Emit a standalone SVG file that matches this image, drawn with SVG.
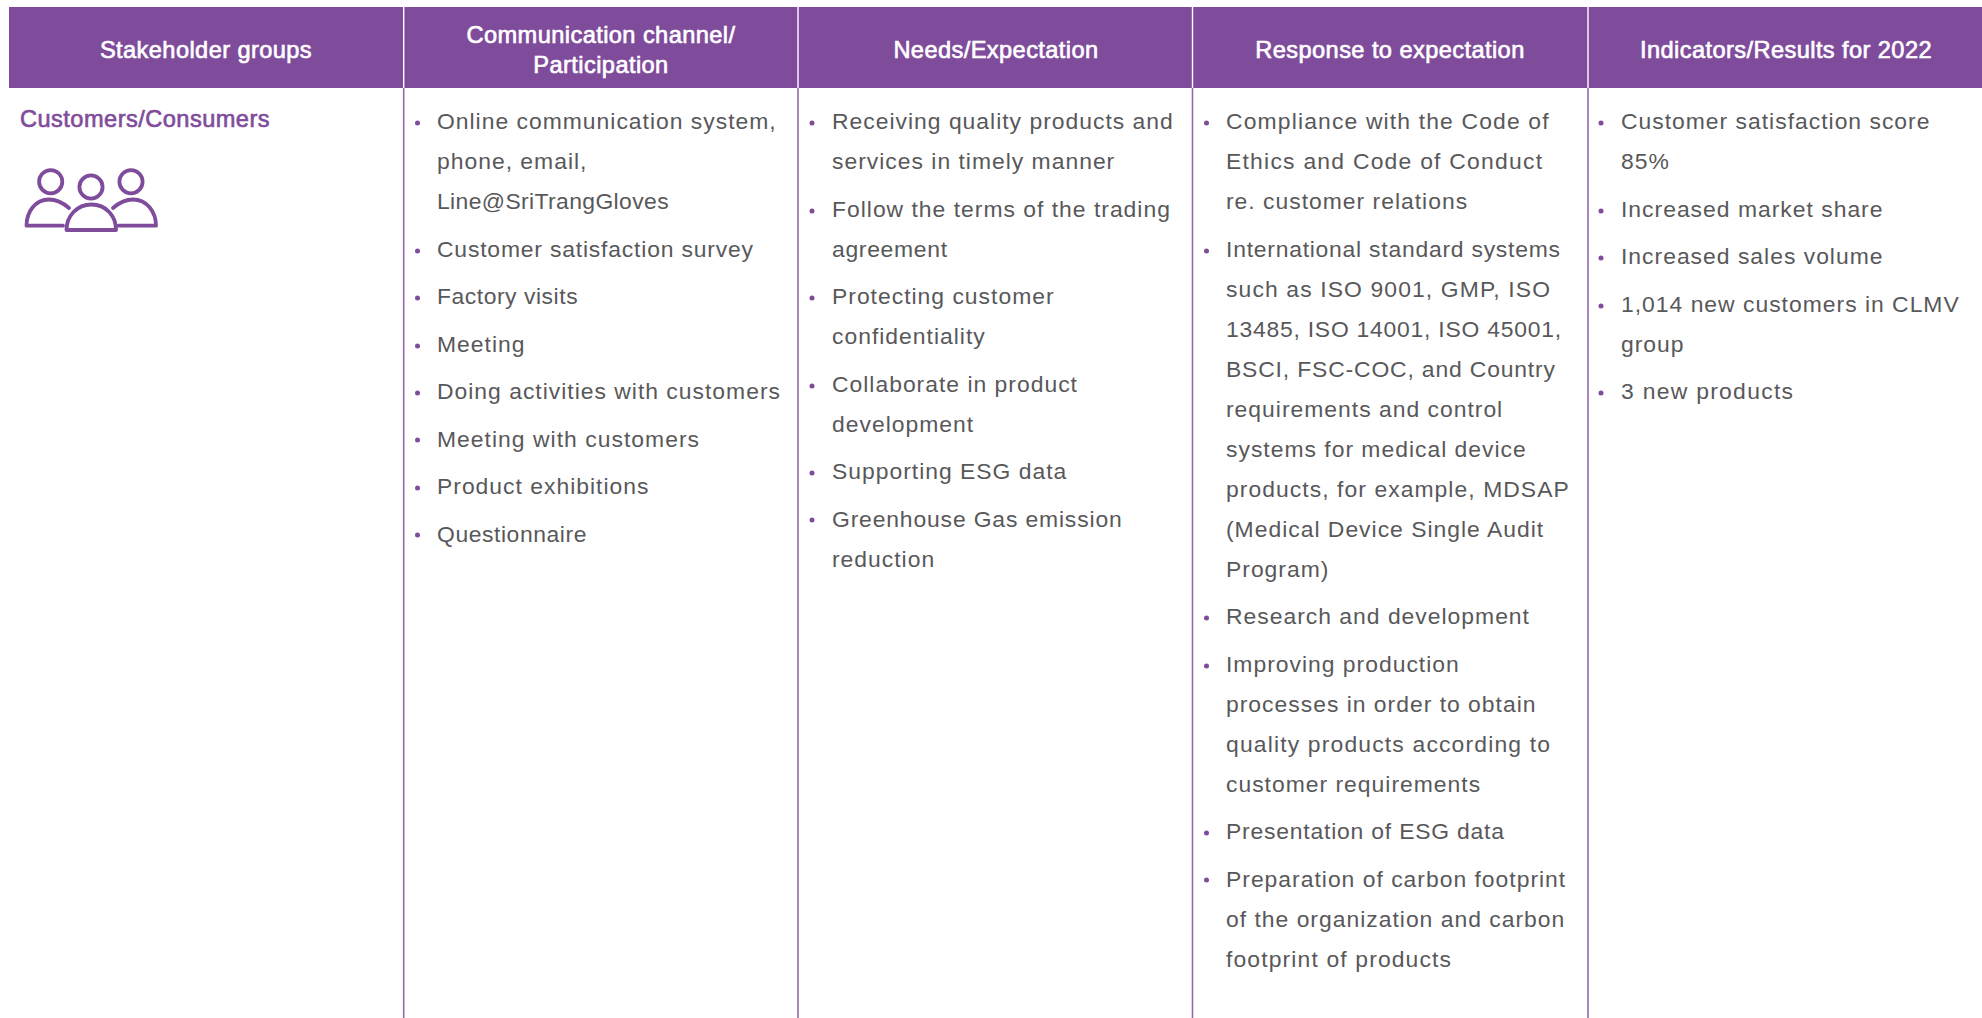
<svg xmlns="http://www.w3.org/2000/svg" width="1982" height="1018" viewBox="0 0 1982 1018">
<style>
.h{fill:#7f4c9b}
.ht{font:23.6px "Liberation Sans",Arial,sans-serif;fill:#fff;stroke:#fff;stroke-width:.65;letter-spacing:.42px;text-anchor:middle}
.t{font:22.9px "Liberation Sans",Arial,sans-serif;fill:#58585a;letter-spacing:1px}
.b{fill:#7f4c9b}
.l{stroke:#9468ad;stroke-width:1.6;fill:none}
.w{stroke:#fff;stroke-width:1.4;fill:none}
.i{stroke:#7f4c9b;stroke-width:3.8;fill:none;stroke-linecap:round;stroke-linejoin:round}
</style>
<rect width="1982" height="1018" fill="#fff"/>
<g id="header">
<rect class="h" x="9" y="7" width="1973" height="81"/>
<path class="w" d="M403.700 7V88M798 7V88M1192.500 7V88M1588 7V88"/>
<text class="ht" x="206" y="57.500">Stakeholder groups</text>
<text class="ht" x="601" y="42.500">Communication channel/</text>
<text class="ht" x="601" y="72.500">Participation</text>
<text class="ht" x="996" y="57.500">Needs/Expectation</text>
<text class="ht" x="1390" y="57.500">Response to expectation</text>
<text class="ht" x="1786" y="57.500">Indicators/Results for 2022</text>
</g>
<g id="dividers">
<path class="l" d="M403.700 88V1018M798 88V1018M1192.500 88V1018M1588 88V1018"/>
</g>
<g id="customers">
<text x="20" y="127" style="font:23.6px 'Liberation Sans',Arial,sans-serif;fill:#7f4c9b;stroke:#7f4c9b;stroke-width:.65;letter-spacing:.46px">Customers/Consumers</text>
<g class="i">
<circle cx="50.7" cy="181.7" r="11.6"/><circle cx="91" cy="187" r="11.6"/><circle cx="131" cy="181.7" r="11.6"/>
<path d="M69 208C62 202 55 199.500 49 199.500C35 199.500 26.500 212 26.500 225.700H63"/>
<path d="M113 208C120 202 127 199.500 133 199.500C147 199.500 156 212 156 225.700H118.500"/>
<path d="M66.500 230C66.500 216 77 204.500 91.500 204.500C106 204.500 116 216 116 230Z"/>
</g>
</g>
<g id="channels">
<circle class="b" cx="417.500" cy="123" r="2.500"/><circle class="b" cx="417.500" cy="251" r="2.500"/><circle class="b" cx="417.500" cy="298" r="2.500"/><circle class="b" cx="417.500" cy="346" r="2.500"/><circle class="b" cx="417.500" cy="393" r="2.500"/><circle class="b" cx="417.500" cy="440" r="2.500"/><circle class="b" cx="417.500" cy="488" r="2.500"/><circle class="b" cx="417.500" cy="535" r="2.500"/>
<text class="t" x="437" y="129">Online communication system,</text>
<text class="t" x="437" y="169">phone, email,</text>
<text class="t" x="437" y="209" textLength="232.600">Line@SriTrangGloves</text>
<text class="t" x="437" y="257" textLength="317">Customer satisfaction survey</text>
<text class="t" x="437" y="304" textLength="141.600">Factory visits</text>
<text class="t" x="437" y="352">Meeting</text>
<text class="t" x="437" y="399">Doing activities with customers</text>
<text class="t" x="437" y="446.500" textLength="263">Meeting with customers</text>
<text class="t" x="437" y="494">Product exhibitions</text>
<text class="t" x="437" y="541.500" textLength="150.400">Questionnaire</text>
</g>
<g id="needs">
<circle class="b" cx="812" cy="123" r="2.500"/><circle class="b" cx="812" cy="211" r="2.500"/><circle class="b" cx="812" cy="298" r="2.500"/><circle class="b" cx="812" cy="386" r="2.500"/><circle class="b" cx="812" cy="473" r="2.500"/><circle class="b" cx="812" cy="520" r="2.500"/>
<text class="t" x="832" y="129">Receiving quality products and</text>
<text class="t" x="832" y="169">services in timely manner</text>
<text class="t" x="832" y="217">Follow the terms of the trading</text>
<text class="t" x="832" y="257" textLength="116">agreement</text>
<text class="t" x="832" y="304">Protecting customer</text>
<text class="t" x="832" y="344">confidentiality</text>
<text class="t" x="832" y="392">Collaborate in product</text>
<text class="t" x="832" y="432">development</text>
<text class="t" x="832" y="479">Supporting ESG data</text>
<text class="t" x="832" y="526.500" textLength="290.700">Greenhouse Gas emission</text>
<text class="t" x="832" y="566.500">reduction</text>
</g>
<g id="response">
<circle class="b" cx="1206.500" cy="123" r="2.500"/><circle class="b" cx="1206.500" cy="251" r="2.500"/><circle class="b" cx="1206.500" cy="618" r="2.500"/><circle class="b" cx="1206.500" cy="666" r="2.500"/><circle class="b" cx="1206.500" cy="833" r="2.500"/><circle class="b" cx="1206.500" cy="880" r="2.500"/>
<text class="t" x="1226" y="129" textLength="323.600">Compliance with the Code of</text>
<text class="t" x="1226" y="169" textLength="317">Ethics and Code of Conduct</text>
<text class="t" x="1226" y="209">re. customer relations</text>
<text class="t" x="1226" y="257" textLength="335">International standard systems</text>
<text class="t" x="1226" y="297" textLength="325">such as ISO 9001, GMP, ISO</text>
<text class="t" x="1226" y="337" textLength="336">13485, ISO 14001, ISO 45001,</text>
<text class="t" x="1226" y="377" textLength="330">BSCI, FSC-COC, and Country</text>
<text class="t" x="1226" y="417">requirements and control</text>
<text class="t" x="1226" y="457">systems for medical device</text>
<text class="t" x="1226" y="497" textLength="343.800">products, for example, MDSAP</text>
<text class="t" x="1226" y="537">(Medical Device Single Audit</text>
<text class="t" x="1226" y="577">Program)</text>
<text class="t" x="1226" y="624">Research and development</text>
<text class="t" x="1226" y="672">Improving production</text>
<text class="t" x="1226" y="712">processes in order to obtain</text>
<text class="t" x="1226" y="752" textLength="325">quality products according to</text>
<text class="t" x="1226" y="792">customer requirements</text>
<text class="t" x="1226" y="839" textLength="279">Presentation of ESG data</text>
<text class="t" x="1226" y="887">Preparation of carbon footprint</text>
<text class="t" x="1226" y="927">of the organization and carbon</text>
<text class="t" x="1226" y="967" textLength="226">footprint of products</text>
</g>
<g id="results">
<circle class="b" cx="1601" cy="123" r="2.500"/><circle class="b" cx="1601" cy="211" r="2.500"/><circle class="b" cx="1601" cy="258" r="2.500"/><circle class="b" cx="1601" cy="306" r="2.500"/><circle class="b" cx="1601" cy="393" r="2.500"/>
<text class="t" x="1621" y="129">Customer satisfaction score</text>
<text class="t" x="1621" y="169">85%</text>
<text class="t" x="1621" y="217">Increased market share</text>
<text class="t" x="1621" y="264">Increased sales volume</text>
<text class="t" x="1621" y="312">1,014 new customers in CLMV</text>
<text class="t" x="1621" y="352">group</text>
<text class="t" x="1621" y="399" textLength="173">3 new products</text>
</g>
</svg>
